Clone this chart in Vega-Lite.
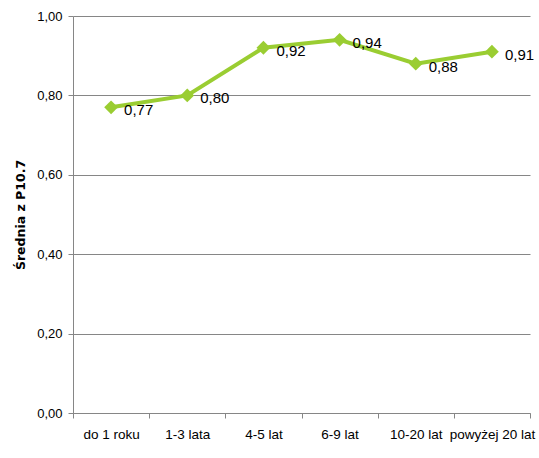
{
  "$schema": "https://vega.github.io/schema/vega-lite/v6.json",
  "width": 457,
  "height": 397,
  "autosize": {"type": "none"},
  "padding": {"left": 73, "top": 16, "right": 9, "bottom": 45},
  "background": "white",
  "config": {
    "view": {"stroke": null},
    "font": "Liberation Sans",
    "locale": {"number": {"decimal": ",", "thousands": " ", "grouping": [3], "currency": ["", " zł"]}}
  },
  "data": {
    "values": [
      {"kat": "do 1 roku", "v": 0.77},
      {"kat": "1-3 lata", "v": 0.80},
      {"kat": "4-5 lat", "v": 0.92},
      {"kat": "6-9 lat", "v": 0.94},
      {"kat": "10-20 lat", "v": 0.88},
      {"kat": "powyżej 20 lat", "v": 0.91}
    ]
  },
  "encoding": {
    "x": {
      "field": "kat", "type": "nominal", "sort": null,
      "scale": {"paddingInner": 0, "paddingOuter": 0},
      "axis": {
        "title": null, "labelAngle": 0, "grid": false,
        "domainColor": "#868686", "tickColor": "#868686", "tickSize": 5,
        "tickBand": "extent",
        "labelFont": "Liberation Sans", "labelFontSize": 13.5, "labelColor": "#000000",
        "labelPadding": 9, "labelOverlap": false
      }
    },
    "y": {
      "field": "v", "type": "quantitative",
      "scale": {"domain": [0, 1]},
      "axis": {
        "title": "Średnia z P10.7", "values": [0, 0.2, 0.4, 0.6, 0.8, 1.0],
        "format": ".2f",
        "grid": true, "gridColor": "#868686",
        "domainColor": "#868686", "tickColor": "#868686", "tickSize": 5,
        "labelFont": "Liberation Sans", "labelFontSize": 13, "labelColor": "#000000",
        "labelPadding": 6,
        "titleFont": "DejaVu Sans", "titleFontSize": 12.5, "titleFontWeight": "bold", "titleColor": "#000000",
        "titlePadding": 9
      }
    }
  },
  "layer": [
    {
      "mark": {"type": "line", "color": "#9ACD32", "strokeWidth": 4}
    },
    {
      "mark": {"type": "point", "shape": "diamond", "filled": true, "color": "#9ACD32", "size": 190, "opacity": 1}
    },
    {
      "mark": {"type": "text", "align": "left", "baseline": "middle", "dx": 13, "dy": 3, "fontSize": 15, "font": "Liberation Sans", "color": "#000000"},
      "encoding": {
        "text": {"field": "v", "type": "quantitative", "format": ".2f"}
      }
    }
  ]
}
